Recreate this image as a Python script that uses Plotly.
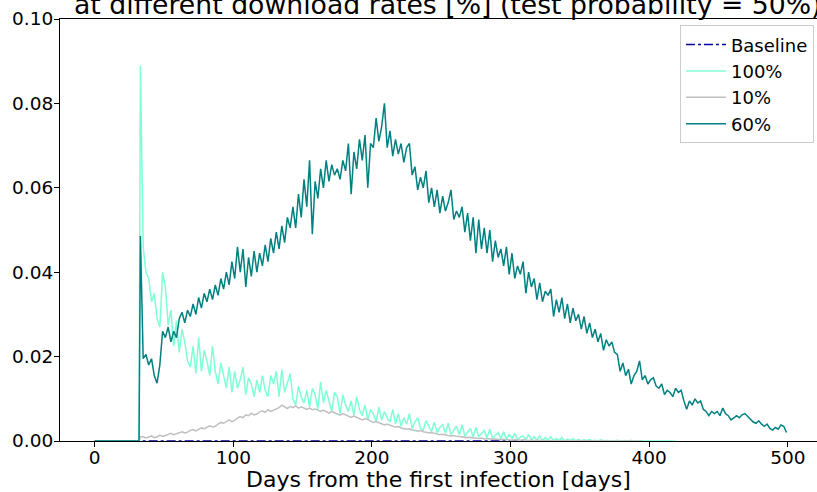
import plotly.graph_objects as go

# ---------------- data ----------------
onset_day = 33          # day when the curves jump from zero
step_days = 2           # sampling interval of the value lists below (days after onset)

baseline_days = [0, 360]
baseline_vals = [0.0, 0.0]

# 60 % download rate : value at onset day, then every 2 days starting at day 35
peak_60 = 0.0486
vals_60 = [
    0.0195, 0.0205, 0.018, 0.0195, 0.0155, 0.0137, 0.018, 0.026, 0.0245, 0.027,
    0.0235, 0.026, 0.0245, 0.029, 0.0305, 0.028, 0.031, 0.0295, 0.0325, 0.030,
    0.034, 0.0315, 0.035, 0.033, 0.036, 0.0335, 0.037, 0.0345, 0.0385, 0.036,
    0.040, 0.037, 0.0425, 0.0385, 0.046, 0.040, 0.0455, 0.0365, 0.0435, 0.039,
    0.045, 0.040, 0.0445, 0.0415, 0.0465, 0.0425, 0.048, 0.0445, 0.0495, 0.0455,
    0.051, 0.047, 0.053, 0.0505, 0.0555, 0.0505, 0.0585, 0.053, 0.062, 0.0555,
    0.0665, 0.049, 0.0615, 0.0575, 0.0645, 0.060, 0.0665, 0.0615, 0.0655, 0.063,
    0.0645, 0.062, 0.0665, 0.064, 0.0705, 0.0585, 0.0685, 0.0645, 0.0715, 0.0665,
    0.0725, 0.060, 0.0705, 0.0695, 0.0765, 0.071, 0.0745, 0.080, 0.0695, 0.0735,
    0.0675, 0.0715, 0.068, 0.0705, 0.066, 0.0695, 0.0705, 0.063, 0.065, 0.0595,
    0.0625, 0.060, 0.064, 0.0565, 0.060, 0.0555, 0.0595, 0.054, 0.058, 0.0545,
    0.0565, 0.0595, 0.0525, 0.0545, 0.053, 0.0555, 0.0495, 0.054, 0.0475, 0.053,
    0.0445, 0.0525, 0.0455, 0.0505, 0.0445, 0.050, 0.0425, 0.0475, 0.0435, 0.0455,
    0.0415, 0.046, 0.0395, 0.0445, 0.0385, 0.0415, 0.0395, 0.0425, 0.035, 0.040,
    0.0365, 0.0385, 0.0335, 0.0375, 0.033, 0.0355, 0.0345, 0.036, 0.0295, 0.0335,
    0.0305, 0.034, 0.029, 0.0325, 0.028, 0.0315, 0.0285, 0.030, 0.0265, 0.0295,
    0.0255, 0.028, 0.0245, 0.0265, 0.0235, 0.0255, 0.0215, 0.024, 0.0225, 0.0235,
    0.021, 0.0205, 0.0165, 0.0185, 0.0155, 0.017, 0.0135, 0.0155, 0.0165, 0.019,
    0.0145, 0.0155, 0.0135, 0.0145, 0.015, 0.013, 0.0125, 0.0135, 0.011, 0.012,
    0.0115, 0.0105, 0.0125, 0.0115, 0.012, 0.0095, 0.0075, 0.0095, 0.0085, 0.010,
    0.009, 0.0095, 0.0075, 0.007, 0.006, 0.007, 0.0065, 0.007, 0.006, 0.0078,
    0.0065, 0.006, 0.005, 0.0055, 0.006, 0.0055, 0.0062, 0.0065, 0.0058, 0.005,
    0.0045, 0.0042, 0.0048, 0.004, 0.0035, 0.004, 0.003, 0.0026, 0.0032, 0.0028,
    0.0038, 0.0035, 0.002,
]

# 100 % download rate
peak_100 = 0.0889
vals_100 = [
    0.046, 0.040, 0.0385, 0.033, 0.035, 0.029, 0.027, 0.040, 0.0365, 0.0275,
    0.031, 0.0225, 0.0285, 0.021, 0.0265, 0.0235, 0.019, 0.0175, 0.0225, 0.016,
    0.0245, 0.0165, 0.0215, 0.019, 0.0155, 0.0225, 0.0165, 0.0135, 0.0185, 0.0155,
    0.0125, 0.0175, 0.0115, 0.0165, 0.0125, 0.0145, 0.0175, 0.011, 0.015, 0.0135,
    0.0105, 0.0145, 0.0115, 0.0155, 0.012, 0.0105, 0.0155, 0.0135, 0.0165, 0.0105,
    0.017, 0.0115, 0.0135, 0.016, 0.010, 0.0085, 0.013, 0.0105, 0.009, 0.012,
    0.008, 0.0125, 0.011, 0.0075, 0.014, 0.009, 0.012, 0.0095, 0.007, 0.0115,
    0.0105, 0.0065, 0.011, 0.0085, 0.007, 0.0095, 0.006, 0.0105, 0.0075, 0.006,
    0.0085, 0.005, 0.0075, 0.0065, 0.0045, 0.008, 0.005, 0.007, 0.0055, 0.0045,
    0.0075, 0.004, 0.0065, 0.0035, 0.0055, 0.004, 0.0065, 0.003, 0.0045, 0.0055,
    0.003, 0.0025, 0.0048, 0.0035, 0.0022, 0.0045, 0.002, 0.0032, 0.004, 0.0018,
    0.0042, 0.0015, 0.0025, 0.0035, 0.0015, 0.0038, 0.0012, 0.0022, 0.003, 0.001,
    0.0032, 0.001, 0.0018, 0.0025, 0.0008, 0.0028, 0.0006, 0.0012, 0.002, 0.0005,
    0.0022, 0.0004, 0.0015, 0.0006, 0.0018, 0.0003, 0.0009, 0.0012, 0.0003, 0.0015,
    0.0002, 0.001, 0.0002, 0.0012, 0.0001, 0.0008, 0.0002, 0.001, 0.0001, 0.0006,
    0.0001, 0.0008, 0.0, 0.0005, 0.0001, 0.0006, 0.0, 0.0004, 0.0, 0.0003,
    0.0001, 0.0004, 0.0, 0.0002, 0.0, 0.0003, 0.0, 0.0002, 0.0, 0.0001,
    0.0, 0.0002, 0.0, 0.0, 0.0001, 0.0, 0.0002, 0.0, 0.0, 0.0001,
    0.0, 0.0, 0.0001, 0.0, 0.0, 0.0001, 0.0, 0.0, 0.0001, 0.0,
    0.0, 0.0, 0.0,
]

# 10 % download rate
start_10 = 0.001
vals_10 = [
    0.0010, 0.0007, 0.0009, 0.0012, 0.0008, 0.0010, 0.0014, 0.0011, 0.0013, 0.0016,
    0.0018, 0.0015, 0.0017, 0.0020, 0.0022, 0.0019, 0.0021, 0.0025, 0.0027, 0.0024,
    0.0028, 0.0031, 0.0029, 0.0033, 0.0036, 0.0033, 0.0035, 0.0040, 0.0044, 0.0042,
    0.0047, 0.0050, 0.0046, 0.0049, 0.0054, 0.0058, 0.0055, 0.0062, 0.0060, 0.0066,
    0.0062, 0.0064, 0.0069, 0.0071, 0.0068, 0.0074, 0.0070, 0.0073, 0.0077, 0.0079,
    0.0085, 0.0080, 0.0077, 0.0082, 0.0079, 0.0083, 0.0078, 0.0081, 0.0077, 0.0075,
    0.0078, 0.0074, 0.0076, 0.0072, 0.0070, 0.0073, 0.0069, 0.0066, 0.0070, 0.0066,
    0.0064, 0.0061, 0.0065, 0.0062, 0.0058, 0.0056, 0.0059, 0.0056, 0.0053, 0.0050,
    0.0053, 0.0051, 0.0047, 0.0044, 0.0046, 0.0043, 0.0041, 0.0038, 0.0040, 0.0037,
    0.0035, 0.0033, 0.0034, 0.0031, 0.0030, 0.0028, 0.0029, 0.0026, 0.0025, 0.0023,
    0.0025, 0.0022, 0.0021, 0.0019, 0.0020, 0.0018, 0.0017, 0.0015, 0.0016, 0.0014,
    0.0013, 0.0012, 0.0013, 0.0011, 0.0010, 0.0010, 0.0009, 0.0008, 0.0009, 0.0007,
    0.0007, 0.0006, 0.0007, 0.0005, 0.0006, 0.0005, 0.0004, 0.0005, 0.0004, 0.0003,
    0.0004, 0.0003, 0.0003, 0.0002, 0.0003, 0.0002, 0.0002, 0.0003, 0.0002, 0.0001,
    0.0002, 0.0001, 0.0002, 0.0001, 0.0001, 0.0001, 0.0, 0.0001, 0.0, 0.0001,
    0.0, 0.0001, 0.0, 0.0001, 0.0, 0.0, 0.0001, 0.0, 0.0, 0.0001,
    0.0, 0.0, 0.0001, 0.0, 0.0, 0.0, 0.0001, 0.0, 0.0, 0.0,
    0.0, 0.0, 0.0, 0.0, 0.0, 0.0, 0.0, 0.0, 0.0, 0.0,
    0.0,
]

x_ticks = [0, 100, 200, 300, 400, 500]
y_ticks = [0.00, 0.02, 0.04, 0.06, 0.08, 0.10]
title_text = "at different download rates [%] (test probability = 50%)"
x_title = "Days from the first infection [days]"


def series(onset_value, values):
    days = [0, onset_day - 1, onset_day] + [onset_day + step_days * (i + 1) for i in range(len(values))]
    vals = [0.0, 0.0, onset_value] + list(values)
    return days, vals


FONT = "DejaVu Sans, Verdana, sans-serif"

fig = go.Figure()
fig.add_trace(go.Scatter(x=baseline_days, y=baseline_vals, mode="lines", name="Baseline",
                         line=dict(color="#0000a0", width=1.5, dash="dashdot")))
d, v = series(peak_100, vals_100)
fig.add_trace(go.Scatter(x=d, y=v, mode="lines", name="100%",
                         line=dict(color="#7fffd4", width=1.5)))
d, v = series(start_10, vals_10)
fig.add_trace(go.Scatter(x=d, y=v, mode="lines", name="10%",
                         line=dict(color="#c0c0c0", width=1.5)))
d, v = series(peak_60, vals_60)
fig.add_trace(go.Scatter(x=d, y=v, mode="lines", name="60%",
                         line=dict(color="#008080", width=1.5)))

fig.update_layout(
    width=817, height=492,
    margin=dict(l=60, r=0, t=19, b=51),
    paper_bgcolor="white", plot_bgcolor="white",
    font=dict(family=FONT, color="black", size=18),
    showlegend=True,
    legend=dict(x=0.996, xanchor="right", y=0.985, yanchor="top",
                bgcolor="rgba(255,255,255,0.8)", bordercolor="#cccccc", borderwidth=1,
                font=dict(size=18, family=FONT), tracegroupgap=0, itemwidth=40),
    annotations=[dict(text=title_text, xref="paper", yref="paper", x=0.513, y=1,
                      xanchor="center", yanchor="bottom", yshift=-3, showarrow=False,
                      font=dict(size=26.7, family=FONT))],
)
fig.update_xaxes(range=[-25, 521], tickvals=x_ticks, ticks="outside", ticklen=5,
                 tickcolor="black", showline=True, linecolor="black", linewidth=1,
                 mirror=True, showgrid=False, zeroline=False, ticklabelstandoff=-5,
                 tickfont=dict(size=18.5, family=FONT),
                 title=dict(text=x_title, font=dict(size=22, family=FONT), standoff=4))
fig.update_yaxes(range=[0, 0.1], tickvals=y_ticks, tickformat=".2f", ticks="outside",
                 ticklen=5, tickcolor="black", showline=True, linecolor="black",
                 linewidth=1, showgrid=False, zeroline=False, ticklabelstandoff=-3,
                 tickfont=dict(size=18.5, family=FONT))

fig.write_html("out.html")
